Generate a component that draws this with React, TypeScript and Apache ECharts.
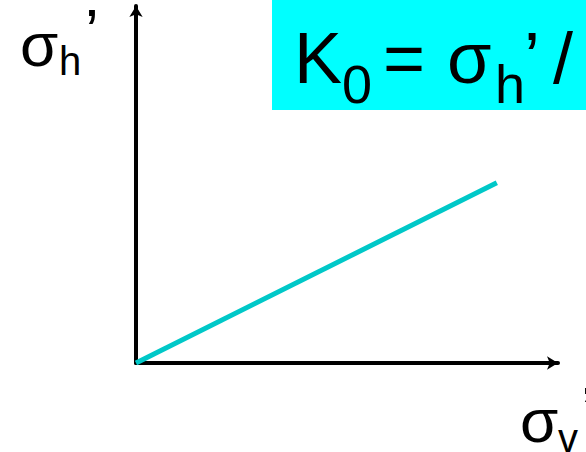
import React, { useEffect, useRef } from "react";
import * as echarts from "echarts";

// Data: effective vertical stress vs effective horizontal stress (linear, K0 line)
const sigmaV: number[] = [0, 85.5];
const sigmaH: number[] = [0, 50.5];

const FONT = "'Liberation Sans', Arial, sans-serif";

export default function App() {
  const ref = useRef<HTMLDivElement>(null);
  useEffect(() => {
    if (!ref.current) return;
    const chart = echarts.init(ref.current, undefined, { renderer: "svg" });
    const t = (x: number, y: number, text: string, size: number) => ({
      type: "text",
      x,
      y,
      z: 10,
      style: {
        text,
        fontSize: size,
        fontFamily: FONT,
        fill: "#000",
        align: "left",
        verticalAlign: "middle",
      },
    });
    chart.setOption({
      animation: false,
      backgroundColor: "#fff",
      grid: { left: 136, top: 6, width: 422, height: 357, containLabel: false },
      xAxis: {
        type: "value",
        min: 0,
        max: 100,
        axisLine: {
          show: true,
          onZero: false,
          symbol: ["none", "arrow"],
          symbolSize: [10, 11],
          lineStyle: { color: "#000", width: 4 },
        },
        axisTick: { show: false },
        axisLabel: { show: false },
        splitLine: { show: false },
      },
      yAxis: {
        type: "value",
        min: 0,
        max: 100,
        axisLine: {
          show: true,
          onZero: false,
          symbol: ["none", "arrow"],
          symbolSize: [10, 11],
          lineStyle: { color: "#000", width: 4 },
        },
        axisTick: { show: false },
        axisLabel: { show: false },
        splitLine: { show: false },
      },
      series: [
        {
          type: "line",
          data: sigmaV.map((v, i) => [v, sigmaH[i]]),
          showSymbol: false,
          lineStyle: { color: "#00C8C8", width: 5 },
          z: 5,
        },
      ],
      graphic: [
        {
          type: "rect",
          shape: { x: 272, y: 0, width: 330, height: 110 },
          style: { fill: "#00FFFF" },
          z: 1,
        },
        t(294, 58, "K", 72),
        t(342, 84, "0", 54),
        t(383, 58, "=", 72),
        t(447, 58, "σ", 72),
        t(495, 84, "h", 54),
        t(524, 58, "’", 72),
        t(553, 58, "/", 72),
        t(20, 44, "σ", 62),
        t(59, 61, "h", 40),
        t(85, 30, "’", 62),
        t(520, 420, "σ", 62),
        t(558, 438, "v", 40),
        t(581, 408, "’", 62),
      ],
    });
    return () => chart.dispose();
  }, []);
  return <div ref={ref} style={{ width: 586, height: 452, position: "absolute", left: 0, top: 0 }} />;
}
